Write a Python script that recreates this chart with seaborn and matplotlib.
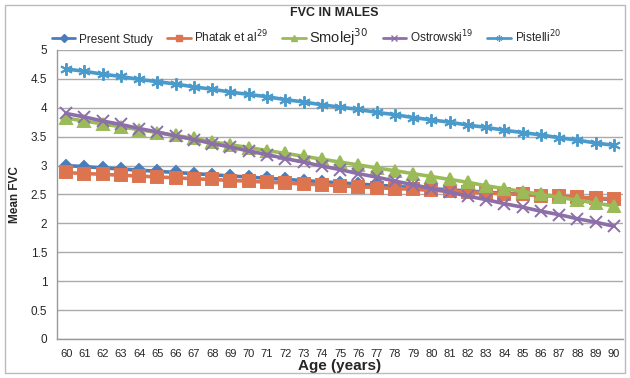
import matplotlib
matplotlib.use('Agg')
import matplotlib.pyplot as plt
from matplotlib.patches import Rectangle
from matplotlib.lines import Line2D
import seaborn as sns
import pandas as pd
import numpy as np

ages = list(range(60, 91))

present_study = [3.00, 2.98, 2.96, 2.94, 2.92, 2.90, 2.88, 2.86, 2.84, 2.82, 2.80,
                 2.78, 2.76, 2.74, 2.72, 2.70, 2.68, 2.66, 2.64, 2.62, 2.60,
                 2.58, 2.56, 2.54, 2.52, 2.50, 2.49, 2.47, 2.45, 2.43, 2.41]
phatak = [2.88, 2.86, 2.85, 2.83, 2.82, 2.80, 2.79, 2.77, 2.76, 2.74, 2.73,
          2.71, 2.70, 2.68, 2.67, 2.65, 2.63, 2.62, 2.60, 2.59, 2.57,
          2.56, 2.54, 2.53, 2.51, 2.50, 2.48, 2.47, 2.45, 2.44, 2.42]
smolej = [3.82, 3.77, 3.72, 3.67, 3.62, 3.57, 3.52, 3.47, 3.41, 3.36, 3.31,
          3.26, 3.21, 3.16, 3.11, 3.06, 3.01, 2.96, 2.91, 2.86, 2.81,
          2.76, 2.71, 2.65, 2.60, 2.55, 2.50, 2.45, 2.40, 2.35, 2.30]
ostrowski = [3.90, 3.84, 3.77, 3.71, 3.64, 3.58, 3.51, 3.45, 3.38, 3.32, 3.25,
             3.19, 3.12, 3.06, 2.99, 2.93, 2.86, 2.80, 2.73, 2.67, 2.60,
             2.54, 2.47, 2.41, 2.34, 2.28, 2.21, 2.15, 2.08, 2.02, 1.95]
pistelli = [4.67, 4.63, 4.58, 4.54, 4.49, 4.45, 4.41, 4.36, 4.32, 4.27, 4.23,
            4.19, 4.14, 4.10, 4.05, 4.01, 3.97, 3.92, 3.88, 3.83, 3.79,
            3.75, 3.70, 3.66, 3.61, 3.57, 3.53, 3.48, 3.44, 3.39, 3.35]

series = [
    ('Present Study', present_study, '#4A7EBB', 'D', 6),
    ('Phatak et al$^{29}$', phatak, '#DD7450', 's', 8),
    ('Smolej$^{30}$', smolej, '#9BBB59', '^', 8),
    ('Ostrowski$^{19}$', ostrowski, '#8C6FA8', 'x', 8),
    ('Pistelli$^{20}$', pistelli, '#4A9ACB', (6, 2, 0), 9),
]

sns.set_style('white')
plt.rcParams['font.family'] = ['Liberation Sans', 'DejaVu Sans']

fig = plt.figure(figsize=(6.3, 3.78), dpi=100)
ax = fig.add_axes([0.0905, 0.1032, 0.8985, 0.7648])

for name, vals, col, mk, ms in series:
    df = pd.DataFrame({'age': np.arange(len(ages)), 'fvc': vals})
    sns.lineplot(data=df, x='age', y='fvc', ax=ax, color=col, marker=mk,
                 markersize=ms, linewidth=2.6, markeredgewidth=1.4,
                 markeredgecolor=col)

ax.set_xlim(-0.5, len(ages) - 0.5)
ax.set_ylim(0, 5)
ax.set_yticks(np.arange(0, 5.01, 0.5))
ax.set_yticklabels(['0', '0.5', '1', '1.5', '2', '2.5', '3', '3.5', '4', '4.5', '5'])
ax.set_xticks(np.arange(len(ages)))
ax.set_xticklabels([str(a) for a in ages])
ax.set_xticks(np.arange(-0.5, len(ages)), minor=True)
ax.tick_params(axis='x', which='major', length=0, labelsize=8, pad=7)
ax.tick_params(axis='x', which='minor', length=3, color='#999999', direction='out')
ax.tick_params(axis='y', length=3, color='#999999', direction='out', labelsize=8.5, pad=4)
ax.grid(axis='y', color='#AAAAAA', linewidth=1)
ax.set_axisbelow(True)
for s in ['top', 'right']:
    ax.spines[s].set_visible(False)
for s in ['left', 'bottom']:
    ax.spines[s].set_color('#999999')
    ax.spines[s].set_linewidth(1)

ax.set_xlabel('Age (years)', fontsize=11, fontweight='bold', labelpad=0)
ax.set_ylabel('Mean FVC', fontsize=8.5, fontweight='bold', labelpad=7)

fig.text(0.53, 0.965, 'FVC IN MALES', ha='center', va='center',
         fontsize=9, fontweight='bold')

handles = [Line2D([0], [0], color=c, marker=m, markersize=4.5, linewidth=2,
                  markeredgecolor=c) for _, _, c, m, _ in series]
labels = [s[0] for s in series]
leg = fig.legend(handles, labels, loc='center', bbox_to_anchor=(0.486, 0.903),
                 ncol=5, frameon=False, fontsize=8.5, handlelength=2.0,
                 columnspacing=1.2, handletextpad=0.3)
leg.get_texts()[2].set_fontsize(10.5)

fig.patches.append(Rectangle((0.008, 0.012), 0.984, 0.976, transform=fig.transFigure,
                             fill=False, edgecolor='#BBBBBB', linewidth=1))

plt.savefig('out.png', dpi=100)
